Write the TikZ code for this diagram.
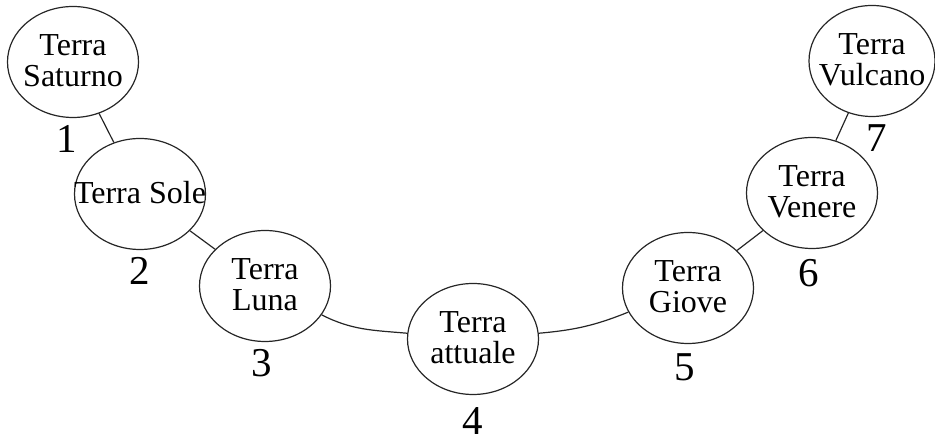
\documentclass[tikz,border=0pt]{standalone}
\usepackage{fontspec}
\setmainfont{Liberation Serif}
\usetikzlibrary{shapes.geometric}
\newcommand\planettext[1]{\makebox[0pt][c]{\smash{\raisebox{-9pt}{\begin{tabular}{@{}c@{}}#1\end{tabular}}}}}
\tikzset{
  planet/.style={draw=black!85, line width=1.2pt, ellipse, minimum width=131pt, minimum height=111pt, inner sep=0pt, font=\fontsize{32}{31}\selectfont},
  num/.style={inner sep=0pt, font=\fontsize{41}{41}\selectfont},
  link/.style={draw=black!85, line width=1.2pt}
}
\begin{document}
\begin{tikzpicture}[x=1pt,y=1pt]
\useasboundingbox (0,0) rectangle (935,438);
\node[planet] (s1) at (73,376) {\planettext{Terra\\Saturno}};
\node[planet] (s2) at (140,244) {\planettext{Terra Sole}};
\node[planet] (s3) at (265,152) {\planettext{Terra\\Luna}};
\node[planet] (s4) at (473,99) {\planettext{Terra\\attuale}};
\node[planet] (s5) at (688,150) {\planettext{Terra\\Giove}};
\node[planet] (s6) at (812,245) {\planettext{Terra\\Venere}};
\node[planet, minimum width=126pt] (s7) at (872,377) {\planettext{Terra\\Vulcano}};
\node[num] (n1) at (67,299) {1};
\node[num] (n2) at (140,167) {2};
\node[num] (n3) at (262,75) {3};
\node[num] (n4) at (473,17) {4};
\node[num] (n5) at (685,71) {5};
\node[num] (n6) at (809,165) {6};
\node[num] (n7) at (877,300) {7};
\draw[link] (s1) -- (s2);
\draw[link] (s2) -- (s3);
\draw[link] (s3) to[out=-27, in=175] (s4);
\draw[link] (s4) to[out=5, in=202] (s5);
\draw[link] (s5) -- (s6);
\draw[link] (s6) -- (s7);
\end{tikzpicture}
\end{document}
